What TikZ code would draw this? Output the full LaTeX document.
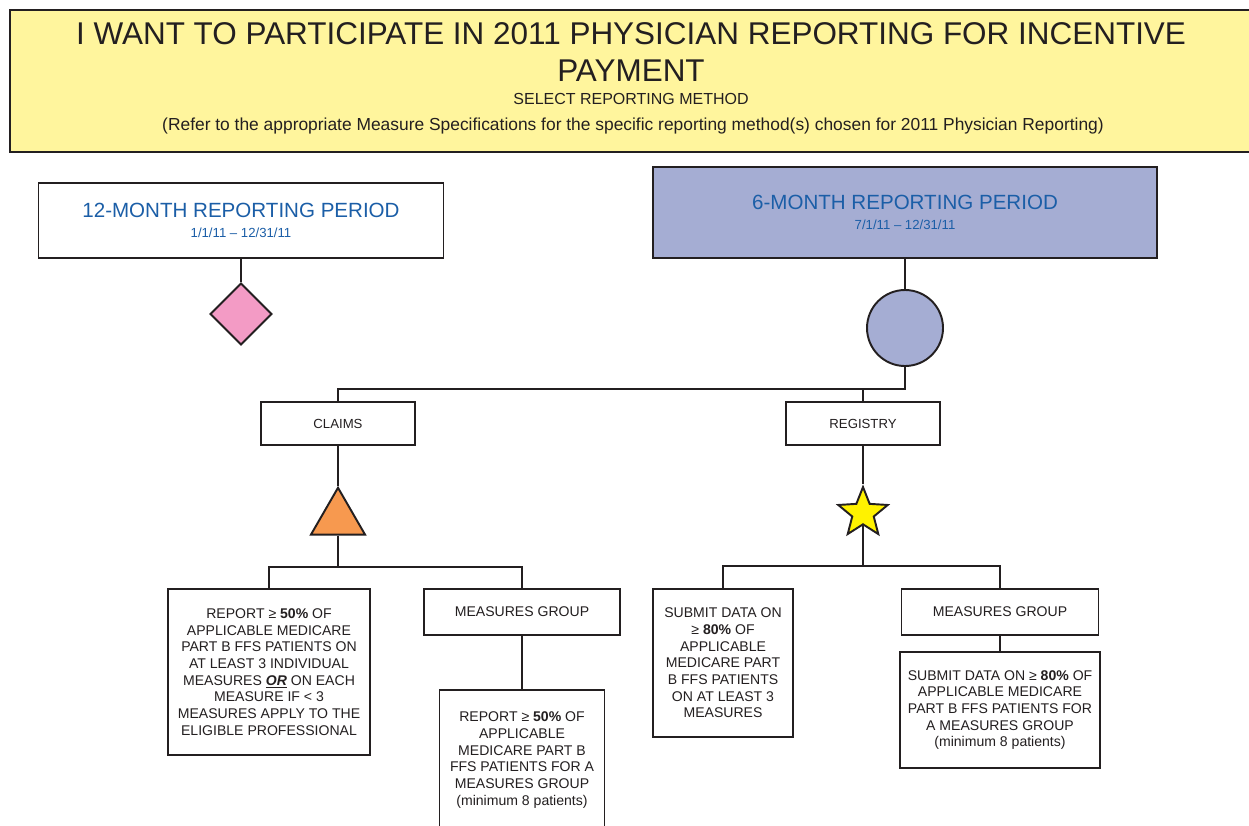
\documentclass[tikz,border=0pt]{standalone}
\usepackage{fontspec}
\setmainfont{Liberation Sans}
\usepackage{tikz}
\usetikzlibrary{shapes.geometric}
\definecolor{banner}{HTML}{FFF59D}
\definecolor{lavender}{HTML}{A5ADD3}
\definecolor{pinkish}{HTML}{F39BC5}
\definecolor{orangeish}{HTML}{F7994F}
\definecolor{staryellow}{HTML}{FFF200}
\definecolor{periodblue}{HTML}{1B5EA7}
\definecolor{ink}{HTML}{231F20}

\begin{document}
\begin{tikzpicture}[x=0.2mm,y=-0.2mm,
    box/.style={draw=ink,line width=1.1pt,fill=white,inner sep=0pt,align=center,text=ink,font=\fontsize{8}{9.5}\selectfont},
    period/.style={box,text=periodblue,font=\fontsize{11.7}{11}\selectfont},
    symbolshape/.style={draw=ink,line width=1.1pt,inner sep=0pt},
    link/.style={draw=ink,line width=1.1pt}]
  \useasboundingbox (0,0) rectangle (1249,825);

  \node[draw=ink,line width=1.1pt,fill=banner,minimum width=248.4mm,minimum height=28.4mm] (banner) at (631,81) {};
  \node[align=center,text=ink,font=\fontsize{17.9}{21}\selectfont] (headline) at (631,52) {I WANT TO PARTICIPATE IN 2011 PHYSICIAN REPORTING FOR INCENTIVE\\PAYMENT};
  \node[anchor=base,text=ink,font=\fontsize{9.1}{10}\selectfont] (method) at (631,104) {SELECT REPORTING METHOD};
  \node[anchor=base,text=ink,font=\fontsize{9.9}{11}\selectfont] (refer) at (633,130) {(Refer to the appropriate Measure Specifications for the specific reporting method(s) chosen for 2011 Physician Reporting)};

  \node[period,minimum width=81mm,minimum height=15mm] (yearbox) at (241,220.5) {12-MONTH REPORTING PERIOD\\{\fontsize{7.5}{8}\selectfont 1/1/11 -- 12/31/11}};
  \node[period,fill=lavender,minimum width=100.8mm,minimum height=18.2mm] (halfbox) at (905,212.5) {6-MONTH REPORTING PERIOD\\{\fontsize{7.5}{8}\selectfont 7/1/11 -- 12/31/11}};

  \node[symbolshape,diamond,aspect=1,fill=pinkish,minimum size=12.4mm] (diam) at (241,314) {};
  \node[symbolshape,circle,fill=lavender,minimum size=15.2mm] (halfcircle) at (905,328) {};

  \node[box,font=\fontsize{7.5}{9}\selectfont,minimum width=30.8mm,minimum height=8.6mm] (claims) at (338,423.5) {CLAIMS};
  \node[box,font=\fontsize{7.5}{9}\selectfont,minimum width=30.8mm,minimum height=8.6mm] (registry) at (863,423.5) {REGISTRY};

  \node[symbolshape,regular polygon,regular polygon sides=3,fill=orangeish,minimum size=12.5mm] (tri) at (338,519) {};
  \node[symbolshape,star,star points=5,star point ratio=2.3,fill=staryellow,minimum size=10.4mm] (starmark) at (863,513) {};

  \node[box,minimum width=40.4mm,minimum height=33.2mm] (claimsreport) at (269,672) {REPORT ≥ \textbf{50\%} OF\\APPLICABLE MEDICARE\\PART B FFS PATIENTS ON\\AT LEAST 3 INDIVIDUAL\\MEASURES \underline{\textbf{\textit{OR}}} ON EACH\\MEASURE IF < 3\\MEASURES APPLY TO THE\\ELIGIBLE PROFESSIONAL};
  \node[box,minimum width=39.2mm,minimum height=9.2mm] (claimsgroup) at (522,612) {MEASURES GROUP};
  \node[box,minimum width=33mm,minimum height=28mm] (claimsgroupreport) at (522,760) {REPORT ≥ \textbf{50\%} OF\\APPLICABLE\\MEDICARE PART B\\FFS PATIENTS FOR A\\MEASURES GROUP\\(minimum 8 patients)};

  \node[box,minimum width=28mm,minimum height=29.6mm] (regsubmit) at (723,663) {SUBMIT DATA ON\\≥ \textbf{80\%} OF\\APPLICABLE\\MEDICARE PART\\B FFS PATIENTS\\ON AT LEAST 3\\MEASURES};
  \node[box,minimum width=39.4mm,minimum height=9.2mm] (reggroup) at (1000,612) {MEASURES GROUP};
  \node[box,minimum width=40mm,minimum height=23.2mm] (reggroupsubmit) at (1000,710) {SUBMIT DATA ON ≥ \textbf{80\%} OF\\APPLICABLE MEDICARE\\PART B FFS PATIENTS FOR\\A MEASURES GROUP\\(minimum 8 patients)};

  \draw[link] (yearbox.south) -- (diam.north);
  \draw[link] (halfbox.south) -- (halfcircle.north);
  \draw[link] (halfcircle.south) -- ++(0,22) -| (claims.north);
  \draw[link] (halfcircle.south) -- ++(0,22) -| (registry.north);
  \draw[link] (claims.south) -- (tri.corner 1);
  \draw[link] (tri.south) -- ++(0,31) -| (claimsreport.north);
  \draw[link] (tri.south) -- ++(0,31) -| (claimsgroup.north);
  \draw[link] (claimsgroup.south) -- (claimsgroupreport.north);
  \draw[link] (registry.south) -- (starmark.north);
  \draw[link] (starmark.south) -- ++(0,41) -| (regsubmit.north);
  \draw[link] (starmark.south) -- ++(0,41) -| (reggroup.north);
  \draw[link] (reggroup.south) -- (reggroupsubmit.north);
\end{tikzpicture}
\end{document}
